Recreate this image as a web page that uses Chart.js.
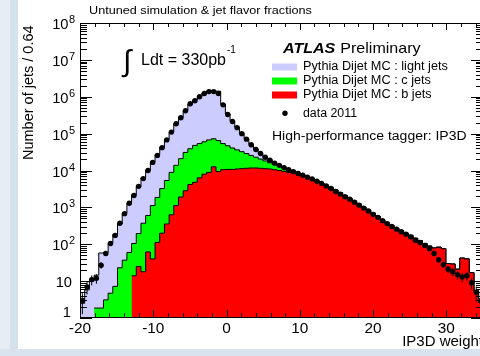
<!DOCTYPE html>
<html>
<head>
<meta charset="utf-8">
<script src="https://cdn.jsdelivr.net/npm/chart.js@4.4.1/dist/chart.umd.min.js"></script>
<style>
  html, body { margin: 0; padding: 0; background: #fff; overflow: hidden; }
  #wrap { position: relative; width: 480px; height: 356px; overflow: hidden; }
  .strip { position: absolute; }
  #c { position: absolute; left: 0; top: 0; }
</style>
</head>
<body>
<div id="wrap">
  <div class="strip" style="left:0;top:0;width:10px;height:356px;background:#e7edf5"></div>
  <div class="strip" style="left:10px;top:0;width:8px;height:356px;background:#d6e1ee"></div>
  <div class="strip" style="left:0;top:349px;width:480px;height:7px;background:#d9e3ef"></div>
  <canvas id="c" width="490" height="356"></canvas>
</div>
<script>
// histogram binning: 86 bins of 0.64 starting at -20
const binStart = -20;
const binWidth = 0.64;
const xTickLabels = [-20, -10, 0, 10, 20, 30];
const yDecades = [0, 1, 2, 3, 4, 5, 6, 7, 8];

// data 2011, jets per bin
const dataCounts = [
  3, 7, 11, 12, 27, 56, 105, 174, 372, 676,
  1290, 2090, 3720, 6030, 10000, 16600, 25700, 41700, 67600, 110000,
  186000, 269000, 417000, 646000, 776000, 1000000, 1230000, 1380000, 1380000, 1230000,
  603000, 331000, 214000, 145000, 100000, 70800, 50100, 37200, 28800, 22900,
  19100, 15800, 13800, 12000, 10500, 9330, 8320, 7410, 6610, 5890,
  5130, 4470, 3800, 3240, 2690, 2290, 1950, 1660, 1380, 1150,
  955, 794, 646, 537, 437, 363, 302, 257, 219, 186,
  158, 129, 112, 93, 76, 56, 38, 28, 21, 18,
  15, 13, 14, 9, 5, 3
];

// stacked MC: light + c + b (top of the lavender histogram)
const mcAll = [
  2.5, 5.8, 10, 14.5, 58, 60, 107, 186, 355, 692,
  1260, 2190, 3720, 6310, 10200, 17000, 26900, 42700, 69200, 112000,
  186000, 282000, 427000, 631000, 813000, 1020000, 1260000, 1450000, 1450000, 1410000,
  631000, 347000, 224000, 151000, 102000, 72400, 51300, 38000, 28800, 23400,
  19500, 16200, 14100, 12300, 10700, 9550, 8510, 7590, 6760, 6030,
  5250, 4570, 3980, 3470, 2950, 2510, 2090, 1780, 1480, 1230,
  1000, 832, 692, 575, 457, 380, 316, 269, 234, 200,
  174, 145, 126, 105, 89, 79, 83, 76, 30, 29,
  21, 42, 40, 17, 5.4, 2.6
];

// stacked MC: c + b (top of the green histogram)
const mcBC = [
  0, 0, 0, 1.86, 1.86, 3.1, 4.7, 7.2, 23, 37,
  60, 105, 195, 372, 603, 1120, 1860, 3240, 5370, 8910,
  13800, 20900, 30900, 38900, 47900, 53700, 60300, 67600, 72400, 64600,
  53700, 46800, 40700, 36300, 32400, 28800, 25700, 22900, 20400, 18200,
  16200, 14500, 13200, 11700, 10500, 9550, 8510, 7590, 6760, 6030,
  5250, 4570, 3980, 3470, 2950, 2510, 2090, 1780, 1480, 1230,
  1000, 832, 692, 575, 457, 380, 316, 269, 234, 200,
  174, 145, 126, 105, 89, 79, 83, 76, 30, 29,
  21, 42, 40, 17, 5.4, 2.6
];

// MC b jets (red histogram)
const mcB = [
  0, 0, 0, 0, 0, 0, 0, 0, 0, 0,
  0, 14, 25, 18, 62, 40, 112, 200, 355, 631,
  1120, 1910, 2820, 4170, 4790, 6310, 7940, 8910, 12600, 9330,
  10500, 10700, 10700, 11000, 11200, 11500, 11700, 11700, 11500, 11200,
  11000, 10500, 10000, 9550, 8910, 8510, 7940, 7240, 6610, 6030,
  5250, 4570, 3980, 3470, 2950, 2510, 2090, 1780, 1480, 1230,
  1000, 832, 692, 575, 457, 380, 316, 269, 234, 200,
  174, 145, 126, 105, 89, 79, 83, 76, 30, 29,
  21, 42, 40, 17, 5.4, 2.6
];

const lightColor = '#ccccff';
const cColor = '#00ff00';
const bColor = '#ff0000';
const FONT = '"Liberation Sans", Arial, Helvetica, sans-serif';

// step histogram: one point per lower bin edge + closing point
function histPoints(counts) {
  const pts = counts.map((v, i) => ({ x: binStart + i * binWidth, y: v }));
  pts.push({ x: binStart + counts.length * binWidth, y: counts[counts.length - 1] });
  return pts;
}

function histDataset(label, counts, color, order) {
  return {
    label: label,
    data: histPoints(counts),
    stepped: 'before',
    fill: 'start',
    backgroundColor: color,
    borderColor: '#000',
    borderWidth: 1,
    pointRadius: 0,
    order: order
  };
}

// text with a slight horizontal stretch, like the original render
function txt(ctx, s, x, y, size, opts = {}) {
  ctx.save();
  ctx.font = `${opts.style || ''} ${size}px ${FONT}`;
  ctx.fillStyle = opts.color || '#000';
  ctx.textAlign = opts.align || 'left';
  ctx.textBaseline = 'alphabetic';
  ctx.translate(x, y);
  if (opts.rot) ctx.rotate(opts.rot);
  ctx.scale(opts.sx || 1, 1);
  ctx.fillText(s, 0, 0);
  const w = ctx.measureText(s).width * (opts.sx || 1);
  ctx.restore();
  return w;
}

const rootStyle = {
  id: 'rootStyle',
  afterDatasetsDraw(chart) {
    // data error bars (stat. in y, bin width in x)
    const { ctx, chartArea: a, scales: { x, y } } = chart;
    ctx.save();
    ctx.beginPath();
    ctx.rect(a.left, a.top, a.right - a.left, a.bottom - a.top);
    ctx.clip();
    ctx.strokeStyle = '#000';
    ctx.lineWidth = 1;
    ctx.beginPath();
    dataCounts.forEach((n, i) => {
      if (!n) return;
      const e = Math.sqrt(n);
      const px = x.getPixelForValue(binStart + (i + 0.5) * binWidth);
      const py = y.getPixelForValue(n);
      const lo = n - e > 0 ? y.getPixelForValue(n - e) : a.bottom;
      ctx.moveTo(px, lo);
      ctx.lineTo(px, y.getPixelForValue(n + e));
      ctx.moveTo(x.getPixelForValue(binStart + i * binWidth), py);
      ctx.lineTo(x.getPixelForValue(binStart + (i + 1) * binWidth), py);
    });
    ctx.stroke();
    ctx.restore();
  },
  afterDraw(chart) {
    const { ctx, chartArea: a, scales: { x, y } } = chart;
    ctx.save();
    ctx.strokeStyle = '#000';
    ctx.lineWidth = 1;
    ctx.strokeRect(a.left + 0.5, a.top + 0.5, a.right - a.left - 1, a.bottom - a.top - 1);

    // axis ticks, drawn inside the frame
    ctx.beginPath();
    for (let v = -20; v <= 35; v += 2) {
      const px = Math.round(x.getPixelForValue(v)) + 0.5;
      const major = v % 10 === 0;
      ctx.moveTo(px, a.bottom); ctx.lineTo(px, a.bottom - (major ? 8 : 5));
      ctx.moveTo(px, a.top); ctx.lineTo(px, a.top + (major ? 7 : 4));
    }
    yDecades.forEach(n => {
      for (let m = 1; m <= 9; m++) {
        if (n === 8 && m > 1) break;
        const py = Math.round(y.getPixelForValue(m * Math.pow(10, n))) + 0.5;
        const len = m === 1 ? 12 : 7;
        ctx.moveTo(a.left, py); ctx.lineTo(a.left + len, py);
        ctx.moveTo(a.right, py); ctx.lineTo(a.right - len, py);
      }
    });
    ctx.stroke();
    ctx.restore();

    // tick labels
    xTickLabels.forEach(v => {
      txt(ctx, String(v), x.getPixelForValue(v), 333, 14, { align: 'center', sx: 1.1 });
    });
    yDecades.forEach(n => {
      const py = y.getPixelForValue(Math.pow(10, n));
      if (n === 0) {
        txt(ctx, '1', 71, py - 1, 14, { align: 'right', sx: 1.05 });
      } else if (n === 1) {
        txt(ctx, '10', 72, py + 6, 14, { align: 'right', sx: 1.05 });
      } else {
        txt(ctx, '10', 68.5, py + 6, 14, { align: 'right', sx: 1.05 });
        txt(ctx, String(n), 69, py, 10, { sx: 1.1 });
      }
    });

    // axis titles
    txt(ctx, 'IP3D weight', a.right, 346, 15, { align: 'right' });
    txt(ctx, 'Number of jets / 0.64', 32.5, 160, 14.5, { rot: -Math.PI / 2 });
    txt(ctx, 'Untuned simulation & jet flavor fractions', 89, 14, 11.5, { sx: 1.1 });

    // luminosity
    txt(ctx, '\u222B', 123, 71, 30, {});
    txt(ctx, 'Ldt = 330pb', 141, 65, 16);
    txt(ctx, '-1', 227, 53, 10);

    // ATLAS label and legend
    const w = txt(ctx, 'ATLAS', 283, 53.3, 15, { style: 'italic bold', sx: 1.07 });
    txt(ctx, 'Preliminary', 283 + w + 5, 53.3, 15, { sx: 1.07 });
    const entries = [
      [lightColor, 'Pythia Dijet MC : light jets', 70],
      [cColor, 'Pythia Dijet MC : c jets', 84],
      [bColor, 'Pythia Dijet MC : b jets', 98]
    ];
    entries.forEach(([col, label, base]) => {
      ctx.fillStyle = col;
      ctx.fillRect(272, base - 6.5, 25, 7);
      txt(ctx, label, 303, base, 12, { sx: 1.06 });
    });
    ctx.fillStyle = '#000';
    ctx.beginPath();
    ctx.arc(285, 113.3, 2.7, 0, Math.PI * 2);
    ctx.fill();
    txt(ctx, 'data 2011', 303, 117, 12, { sx: 1.03 });
    txt(ctx, 'High-performance tagger: IP3D', 272, 139.5, 12.5, { sx: 1.12 });
  }
};

const ctx = document.getElementById('c').getContext('2d');
new Chart(ctx, {
  type: 'line',
  data: {
    datasets: [
      {
        label: 'data 2011',
        data: dataCounts.map((v, i) => ({ x: binStart + (i + 0.5) * binWidth, y: v })),
        showLine: false,
        pointRadius: 2.7,
        pointBackgroundColor: '#000',
        pointBorderWidth: 0,
        order: 0
      },
      histDataset('Pythia Dijet MC : b jets', mcB, bColor, 1),
      histDataset('Pythia Dijet MC : c jets', mcBC, cColor, 2),
      histDataset('Pythia Dijet MC : light jets', mcAll, lightColor, 3)
    ]
  },
  options: {
    responsive: false,
    animation: false,
    layout: { padding: { top: 23, right: 7, left: 0, bottom: 0 } },
    plugins: { legend: { display: false }, tooltip: { enabled: false } },
    scales: {
      x: {
        type: 'linear',
        min: -20,
        max: 35,
        grid: { display: false, drawTicks: false },
        border: { display: false },
        ticks: { display: false },
        afterFit: s => { s.height = 38; }
      },
      y: {
        type: 'logarithmic',
        min: 1,
        max: 1e8,
        grid: { display: false, drawTicks: false },
        border: { display: false },
        ticks: { display: false },
        afterFit: s => { s.width = 80; }
      }
    }
  },
  plugins: [rootStyle]
});
</script>
</body>
</html>
